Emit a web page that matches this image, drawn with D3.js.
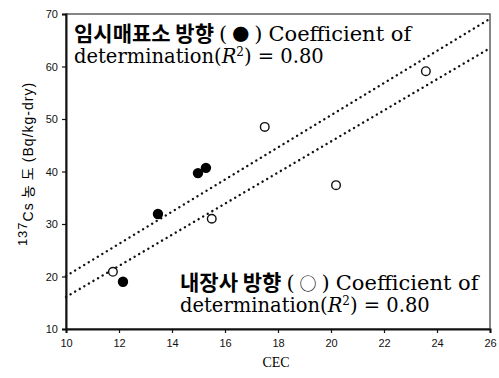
<!DOCTYPE html>
<html>
<head>
<meta charset="utf-8">
<script src="https://cdn.jsdelivr.net/npm/d3@7"></script>
<style>
body { margin: 0; background: #fff; }
svg { display: block; }
.tick text { font-family: "Liberation Sans", Arial, sans-serif; font-size: 11px; fill: #111; }
</style>
</head>
<body>
<div class="container"></div>
<script>
// data
var ticketPts = [[12.15, 19.0], [13.47, 31.9], [14.98, 39.7], [15.28, 40.7]];   // filled
var innerPts = [[11.77, 20.9], [15.5, 31.0], [17.5, 48.5], [20.19, 37.4], [23.58, 59.1]]; // open
var upperFit = [[10, 20.1], [26, 69.1]];
var lowerFit = [[10, 16.1], [26, 63.5]];
var xTicks = [10, 12, 14, 16, 18, 20, 22, 24, 26];
var yTicks = [10, 20, 30, 40, 50, 60, 70];

var W = 499, H = 378;
var m = {left: 66, right: 490, top: 14, bottom: 329};

var svg = d3.select(".container").append("svg")
	.attr("width", W)
	.attr("height", H);

var x = d3.scaleLinear().domain([10, 26]).range([m.left, m.right]);
var y = d3.scaleLinear().domain([10, 70]).range([m.bottom, m.top]);

// frame
svg.append("rect")
	.attr("x", m.left).attr("y", m.top)
	.attr("width", m.right - m.left).attr("height", m.bottom - m.top)
	.style("fill", "none").style("stroke", "#444").style("stroke-width", 1.3);

var xAxis = svg.append("g")
	.attr("transform", "translate(0," + m.bottom + ")")
	.call(d3.axisBottom(x).tickValues(xTicks).tickSize(4).tickPadding(6));
var yAxis = svg.append("g")
	.attr("transform", "translate(" + m.left + ",0)")
	.call(d3.axisLeft(y).tickValues(yTicks).tickSize(4).tickPadding(4));
[xAxis, yAxis].forEach(function(g) {
	g.select(".domain").style("stroke", "#111").style("stroke-width", 2);
	g.selectAll(".tick line").style("stroke", "#111").style("stroke-width", 1.2);
});

// fit lines
var line = d3.line().x(function(d) { return x(d[0]); }).y(function(d) { return y(d[1]); });
[upperFit, lowerFit].forEach(function(f) {
	svg.append("path")
		.attr("d", line(f))
		.style("fill", "none")
		.style("stroke", "#111")
		.style("stroke-width", 2.4)
		.style("stroke-linecap", "round")
		.style("stroke-dasharray", "0.1,5.2");
});

svg.selectAll("circle.filled").data(ticketPts).enter()
	.append("circle").attr("class", "filled")
	.attr("cx", function(d) { return x(d[0]); })
	.attr("cy", function(d) { return y(d[1]); })
	.attr("r", 5.2)
	.style("fill", "#000");

svg.selectAll("circle.open").data(innerPts).enter()
	.append("circle").attr("class", "open")
	.attr("cx", function(d) { return x(d[0]); })
	.attr("cy", function(d) { return y(d[1]); })
	.attr("r", 4.3)
	.style("fill", "#fff")
	.style("stroke", "#111")
	.style("stroke-width", 1.4);

// annotations
var serif = "'DejaVu Serif', 'Liberation Serif', serif";
var kor = "'Noto Sans CJK KR', sans-serif";

function note(tx, ty, place, sym) {
	var t1 = svg.append("text").attr("x", tx).attr("y", ty)
		.style("font-family", serif).style("font-size", "21px").style("fill", "#000");
	t1.append("tspan").text(place).style("font-family", kor).style("font-weight", "bold").style("font-size", "21px");
	t1.append("tspan").text("(").attr("dx", 5);
	t1.append("tspan").text(sym).attr("dx", 5).style("font-family", kor).style("font-size", "17px");
	t1.append("tspan").text(")").attr("dx", 5);
	t1.append("tspan").text("Coefficient of").attr("dx", 6);
	var t2 = svg.append("text").attr("x", tx).attr("y", ty + 22)
		.style("font-family", serif).style("font-size", "19.5px").style("fill", "#000");
	t2.append("tspan").text("determination(");
	t2.append("tspan").text("R").style("font-style", "italic");
	t2.append("tspan").text("2").attr("dy", -7).style("font-size", "12px");
	t2.append("tspan").text(") = 0.80").attr("dy", 7);
}
note(74, 41, "임시매표소 방향", "●");
note(180, 290, "내장사 방향", "○");

// axis titles
svg.append("text")
	.attr("x", 276).attr("y", 367)
	.attr("text-anchor", "middle")
	.style("font-family", "'Liberation Serif', serif").style("font-size", "14px")
	.text("CEC");

var yl = svg.append("text")
	.attr("transform", "translate(33,164) rotate(-90)")
	.attr("text-anchor", "middle")
	.style("font-family", "'Liberation Sans', sans-serif").style("font-size", "14px")
	.style("letter-spacing", "1px");
yl.append("tspan").text("137").attr("dy", -6).style("font-size", "13px");
yl.append("tspan").text("Cs").attr("dy", 6);
yl.append("tspan").text(" 농 도 ").style("font-family", kor);
yl.append("tspan").text("(Bq/kg-dry)");
</script>
</body>
</html>
